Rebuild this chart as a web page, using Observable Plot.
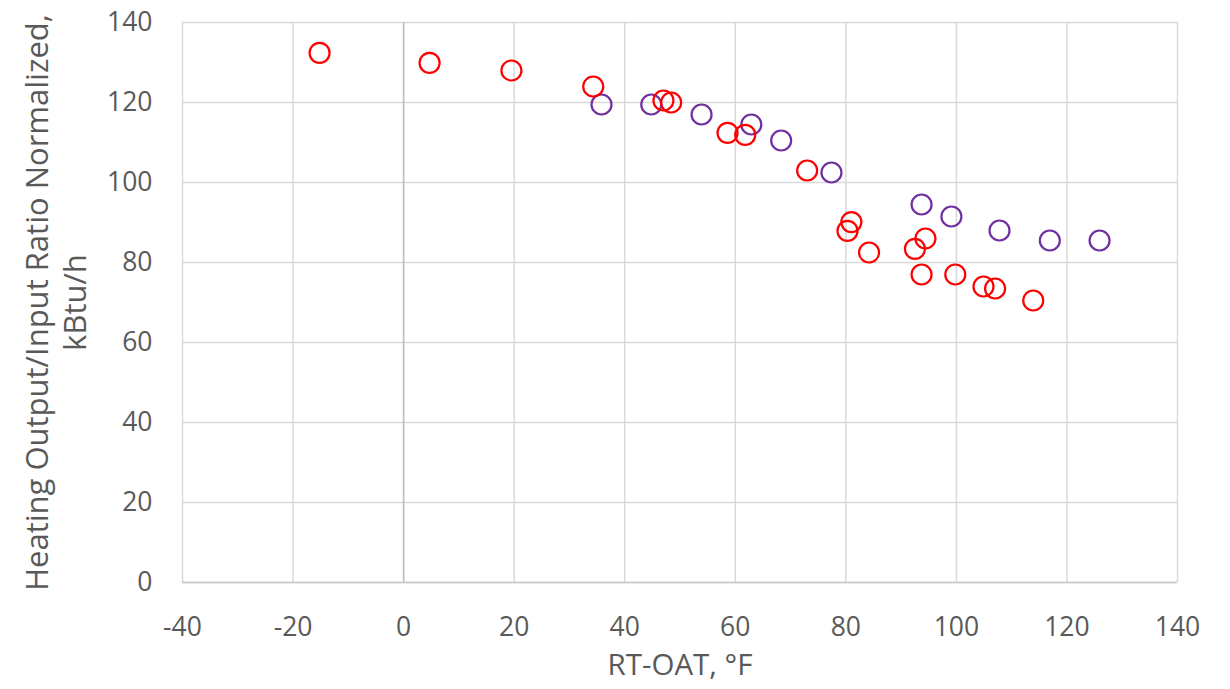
<!DOCTYPE html>
<html>
<head>
<meta charset="utf-8">
<script src="https://cdn.jsdelivr.net/npm/d3@7"></script>
<script src="https://cdn.jsdelivr.net/npm/@observablehq/plot@0.6"></script>
<style>
  html, body { margin: 0; padding: 0; background: #fff; }
</style>
</head>
<body>
<div id="chart"></div>
<script>
// RT-OAT (°F) vs normalized heating output/input ratio (kBtu/h), two test series
const redX = [-15.2, 4.7, 19.5, 34.3, 47, 48.4, 58.6, 61.8, 73, 80.3, 81, 84.2, 92.5, 94.4, 93.7, 99.8, 104.9, 107, 113.9];
const redY = [132.4, 129.9, 128, 124, 120.5, 120, 112.4, 111.9, 103, 87.9, 90.1, 82.5, 83.4, 86, 77, 77, 74, 73.5, 70.5];

const purpleX = [35.8, 44.8, 53.9, 62.9, 68.3, 77.4, 93.7, 99.1, 107.8, 116.9, 125.9];
const purpleY = [119.5, 119.5, 117, 114.5, 110.5, 102.5, 94.5, 91.5, 88, 85.5, 85.5];

const xTicks = [-40, -20, 0, 20, 40, 60, 80, 100, 120, 140];
const yTicks = [0, 20, 40, 60, 80, 100, 120, 140];

const xTitle = "RT-OAT, °F";
const yTitle = "Heating Output/Input Ratio Normalized,\nkBtu/h";

const red = redX.map((x, i) => ({x, y: redY[i]}));
const purple = purpleX.map((x, i) => ({x, y: purpleY[i]}));

const textColor = "#595959";
const tickFont = 26.5;
const titleFont = 29.5;

const chart = Plot.plot({
  width: 1230,
  height: 689,
  marginLeft: 182,
  marginRight: 53,
  marginTop: 22,
  marginBottom: 107,
  style: {fontFamily: "'Open Sans', sans-serif", color: textColor, background: "#fff", overflow: "visible"},
  x: {domain: [-40, 140]},
  y: {domain: [0, 140]},
  marks: [
    Plot.gridX(xTicks, {stroke: "#d9d9d9", strokeOpacity: 1, strokeWidth: 1.5}),
    Plot.gridY(yTicks, {stroke: "#d9d9d9", strokeOpacity: 1, strokeWidth: 1.5}),
    Plot.ruleX([0], {stroke: "#bfbfbf", strokeWidth: 1.5}),
    Plot.ruleY([0], {stroke: "#c8c8c8", strokeWidth: 1.5}),
    Plot.axisX(xTicks, {tickSize: 0, tickPadding: 35, label: null, fill: textColor, fontSize: tickFont, tickFormat: d => `${d}`}),
    Plot.axisY(yTicks, {tickSize: 0, tickPadding: 30, label: null, fill: textColor, fontSize: tickFont, tickFormat: d => `${d}`}),
    Plot.dot(purple, {x: "x", y: "y", r: 10, stroke: "#7030a0", strokeWidth: 2.2, fill: "none"}),
    Plot.dot(red, {x: "x", y: "y", r: 10, stroke: "#ff0000", strokeWidth: 2.2, fill: "none"}),
    Plot.text([xTitle], {text: d => d, frameAnchor: "bottom", dy: 92, fill: textColor, fontSize: titleFont}),
    Plot.text([yTitle], {text: d => d, frameAnchor: "left", dx: -128, rotate: -90, textAnchor: "middle", lineHeight: 1.22, fill: textColor, fontSize: 31})
  ]
});

document.getElementById("chart").appendChild(chart);
</script>
</body>
</html>
